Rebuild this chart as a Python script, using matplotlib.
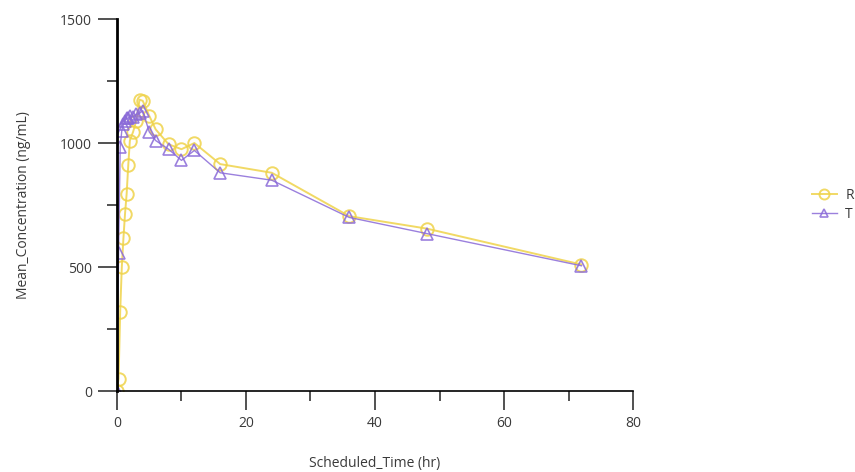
import matplotlib.pyplot as plt
from matplotlib.ticker import MultipleLocator

plt.rcParams['font.family'] = ['Open Sans', 'DejaVu Sans']

# sampling times (hr)
time_hr = [0, 0.25, 0.5, 0.75, 1, 1.25, 1.5, 1.75, 2, 2.5, 3, 3.5, 4,
           5, 6, 8, 10, 12, 16, 24, 36, 48, 72]

# mean concentrations (ng/mL)
conc_R = [0, 50, 320, 500, 615, 715, 795, 910, 1010, 1045, 1090, 1175, 1170,
          1110, 1055, 995, 975, 1000, 915, 880, 705, 655, 510]
conc_T = [0, 555, 985, 1050, 1075, 1090, 1100, 1100, 1110, 1105, 1115, 1120, 1130,
          1045, 1010, 975, 930, 970, 880, 850, 700, 635, 505]

color_R = "#EFD34A"
color_T = "#8A6AD8"
text_color = "#3a3a3a"

fig = plt.figure(figsize=(8.55, 4.72), dpi=100)
ax = fig.add_axes([0.1368, 0.1716, 0.6036, 0.7881])

ax.plot(time_hr, conc_R, color=color_R, lw=1.4, marker="o", ms=9,
        mfc="none", mec=color_R, mew=1.4, alpha=0.85, label="R")
ax.plot(time_hr, conc_T, color=color_T, lw=1.0, marker="^", ms=8,
        mfc="none", mec=color_T, mew=1.2, alpha=0.85, label="T")

ax.set_xlim(0, 80)
ax.set_ylim(0, 1500)
ax.xaxis.set_major_locator(MultipleLocator(20))
ax.xaxis.set_minor_locator(MultipleLocator(10))
ax.yaxis.set_major_locator(MultipleLocator(500))
ax.yaxis.set_minor_locator(MultipleLocator(250))

for s in ["top", "right"]:
    ax.spines[s].set_visible(False)
ax.spines["left"].set_linewidth(2.0)
ax.spines["bottom"].set_linewidth(1.2)
ax.tick_params(which="major", length=14, width=1.2, color="#333333",
               labelsize=10, labelcolor=text_color, pad=4)
ax.tick_params(which="minor", length=7, width=1.2, color="#333333")

ax.set_xlabel("Scheduled_Time (hr)", fontsize=10, color=text_color, labelpad=18)
ax.set_ylabel("Mean_Concentration (ng/mL)", fontsize=10, color=text_color, labelpad=21)

fig.legend(loc="upper left", bbox_to_anchor=(0.935, 0.628), frameon=False,
           fontsize=10, handlelength=1.8, handletextpad=0.6, labelspacing=0.3,
           labelcolor=text_color, markerscale=0.8)

plt.savefig("out.png", dpi=100)
